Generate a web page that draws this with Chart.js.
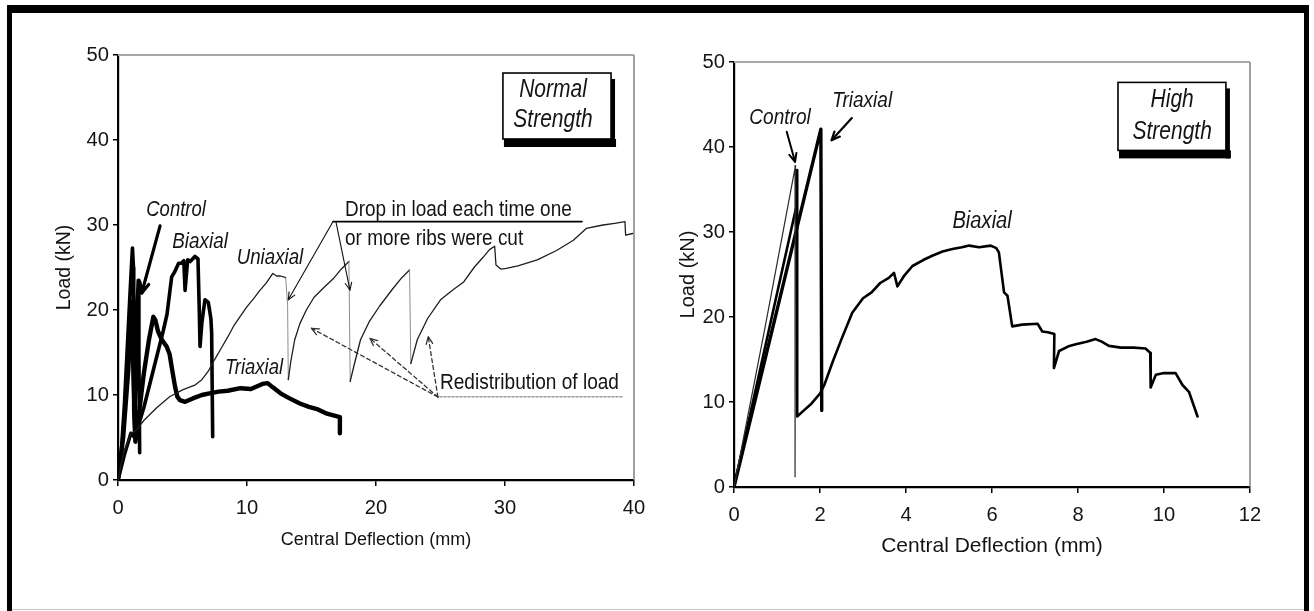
<!DOCTYPE html>
<html><head><meta charset="utf-8">
<script src="https://cdn.jsdelivr.net/npm/chart.js@4.4.1/dist/chart.umd.min.js"></script>
<style>
html,body{margin:0;padding:0;background:#fff;width:1314px;height:611px;overflow:hidden;position:relative}
#frame{position:absolute;left:7px;top:5px;width:1302px;height:606px;border-top:8px solid #000;border-left:5px solid #000;border-right:5px solid #000;box-sizing:border-box}
#bline{position:absolute;left:12px;top:609px;width:1292px;height:1px;background:#c8c8c8}
canvas{position:absolute}
</style></head><body>
<div id="frame"></div><div id="bline"></div>
<canvas id="cl" width="611" height="534" style="left:49px;top:20px"></canvas>
<canvas id="cr" width="618" height="540" style="left:672px;top:20px"></canvas>
<script>
// ---------- tick labels ----------
const leftXTicks = [0, 10, 20, 30, 40];
const leftYTicks = [0, 10, 20, 30, 40, 50];
const rightXTicks = [0, 2, 4, 6, 8, 10, 12];
const rightYTicks = [0, 10, 20, 30, 40, 50];

// ---------- Normal strength (left) ----------
const nsControlX = [0, 0.2, 0.5, 0.8, 1.0, 1.12, 1.2, 1.22, 1.3, 1.4, 1.5, 1.57, 1.62, 1.68];
const nsControlY = [0, 2, 9, 18, 24, 27.3, 25, 8, 5.5, 14, 21, 23.5, 15, 3.2];

const nsBiaxialX = [0, 0.5, 1.0, 1.3, 1.6, 2.0, 2.5, 3.0, 3.5, 3.8, 4.16, 4.4, 4.7, 4.9, 5.1, 5.2, 5.4, 5.6, 5.96, 6.2, 6.3, 6.36, 6.5, 6.74, 7.0, 7.2, 7.26, 7.34];
const nsBiaxialY = [0, 3, 5.5, 5, 6.5, 8.5, 11.5, 14.5, 17.5, 19.5, 23.9, 24.5, 25.5, 25.5, 25.8, 22.3, 25.9, 25.7, 26.3, 26.0, 20, 15.7, 18.5, 21.2, 20.9, 19, 17.3, 5.1];

const nsTriaxialX = [0, 0.4, 0.8, 1.0, 1.1, 1.2, 1.35, 1.6, 2.0, 2.4, 2.74, 2.9, 3.1, 3.4, 3.77, 4.0, 4.16, 4.42, 4.6, 4.8, 5.2, 5.8, 6.5, 7.1, 7.8, 8.5, 9.5, 10.3, 11.2, 11.6, 12.0, 12.6, 13.3, 14.1, 14.8, 15.5, 16.2, 16.7, 17.2, 17.2];
const nsTriaxialY = [0, 5, 13, 19.5, 21, 12, 4.5, 7.5, 12.5, 16.5, 19.2, 18.8, 17.5, 16.5, 15.7, 14.8, 13.3, 11, 9.8, 9.4, 9.2, 9.6, 10.0, 10.2, 10.4, 10.5, 10.8, 10.7, 11.3, 11.4, 10.9, 10.2, 9.6, 9.0, 8.6, 8.3, 7.8, 7.6, 7.4, 5.5];

const nsUniaxialX = [0, 0.4, 1.0, 1.4, 2.0, 3.0, 4.0, 5.0, 6.0, 6.5, 7.0, 7.5, 8.0, 8.5, 9.0, 9.5, 10.0, 10.5, 11.0, 11.5, 12.0, 12.3, 12.6, 13.0, 13.15, 13.2,
  13.4, 13.7, 14.1, 14.6, 15.2, 16.0, 16.7, 17.3, 17.9, 18.0,
  18.3, 18.8, 19.5, 20.3, 21.3, 22.0, 22.6, 22.7,
  23.2, 24.0, 25.0, 26.0, 26.8, 27.6, 28.3, 28.8, 29.2, 29.3, 29.7, 30.1, 31.0, 32.5, 34.0, 35.3, 36.3, 37.6, 38.5, 39.3, 39.35, 39.9];
const nsUniaxialY = [0, 3, 5.5, 5.8, 7, 8.5, 9.8, 10.6, 11.2, 11.8, 12.8, 14.2, 15.5, 16.8, 18.2, 19.3, 20.4, 21.3, 22.3, 23.2, 24.3, 24.0, 24.0, 23.8, 20.5, 11.8,
  14, 16.5, 18.4, 20, 21.5, 22.7, 23.7, 24.8, 25.7, 11.6,
  13.5, 16.5, 18.7, 20.5, 22.5, 23.8, 24.7, 13.7,
  16.5, 19, 21.2, 22.4, 23.3, 25, 26.2, 27.1, 27.5, 25.3, 24.8, 24.9, 25.2, 25.9, 27, 28.2, 29.6, 30, 30.2, 30.4, 28.8, 29.0];

// ---------- High strength (right) ----------
const hsControlX = [0, 0.7, 1.43, 1.42];
const hsControlY = [0, 18.2, 37.8, 1.2];

const hsTriaxialX = [0, 1.0, 2.02, 2.04];
const hsTriaxialY = [0, 20.8, 42.1, 9.0];

const hsBiaxialX = [0, 1.45, 1.47, 1.47, 1.6, 1.8, 2.0, 2.1, 2.3, 2.5, 2.75, 3.0, 3.2, 3.4, 3.6, 3.72, 3.8, 3.95, 4.15, 4.4, 4.61, 4.85, 5.08, 5.3, 5.47, 5.7, 5.97, 6.1, 6.16, 6.28, 6.36, 6.47, 6.7, 7.06, 7.17, 7.3, 7.45, 7.44, 7.56, 7.8, 7.95, 8.2, 8.41, 8.55, 8.72, 9.0, 9.3, 9.57, 9.68, 9.69, 9.81, 10.0, 10.27, 10.43, 10.58, 10.78];
const hsBiaxialY = [0, 33.0, 37.3, 8.3, 8.9, 9.8, 11.0, 12.0, 14.8, 17.4, 20.5, 22.2, 22.9, 24.0, 24.6, 25.2, 23.6, 24.8, 26.0, 26.7, 27.2, 27.7, 28.0, 28.2, 28.4, 28.2, 28.4, 28.1, 27.6, 22.9, 22.5, 18.9, 19.1, 19.2, 18.3, 18.2, 18.0, 14.0, 16.0, 16.6, 16.8, 17.1, 17.4, 17.1, 16.6, 16.4, 16.4, 16.3, 15.8, 11.7, 13.2, 13.4, 13.4, 12.0, 11.2, 8.3];

function pts(xs, ys) { return xs.map((x, i) => ({ x: x, y: ys[i] })); }

// ---------- fonts ----------
function hasFont(name) {
  const c = document.createElement('canvas').getContext('2d');
  const t = 'Drop in load each time 0123456789';
  c.font = '40px monospace'; const a = c.measureText(t).width;
  c.font = '40px "' + name + '", monospace'; const b = c.measureText(t).width;
  return Math.abs(a - b) > 0.5;
}
const NARROW = hasFont('Liberation Sans Narrow');
const FAM = NARROW ? '"Liberation Sans Narrow", "Liberation Sans", Arial, sans-serif' : '"Liberation Sans", Arial, sans-serif';
const K = NARROW ? 1 : 0.84;
const VS = NARROW ? 1 : 1.2;
const INK = '#141414';

function drawText(ctx, str, X, Y, size, italic, align) {
  ctx.save();
  ctx.font = (italic ? 'italic ' : '') + (size * K) + 'px ' + FAM;
  ctx.fillStyle = INK; ctx.textAlign = align || 'center'; ctx.textBaseline = 'middle';
  ctx.translate(X, Y); ctx.scale(1, VS); ctx.fillText(str, 0, 0);
  ctx.restore();
}
function drawLine(ctx, x0, y0, x1, y1, w, color, dash, head) {
  ctx.save();
  ctx.strokeStyle = color; ctx.lineWidth = w; ctx.lineCap = 'round'; ctx.lineJoin = 'round';
  ctx.setLineDash(dash || []);
  ctx.beginPath(); ctx.moveTo(x0, y0); ctx.lineTo(x1, y1); ctx.stroke();
  if (head) {
    ctx.setLineDash([]);
    const a = Math.atan2(y1 - y0, x1 - x0);
    ctx.beginPath();
    ctx.moveTo(x1 - head * Math.cos(a - 0.42), y1 - head * Math.sin(a - 0.42));
    ctx.lineTo(x1, y1);
    ctx.lineTo(x1 - head * Math.cos(a + 0.42), y1 - head * Math.sin(a + 0.42));
    ctx.stroke();
  }
  ctx.restore();
}
function P(chart, x, y) { return [chart.scales.x.getPixelForValue(x), chart.scales.y.getPixelForValue(y)]; }

function shadowBox(ctx, chart, x0, y0, x1, y1) {
  const [X0, Y0] = P(chart, x0, y0), [X1, Y1] = P(chart, x1, y1);
  ctx.save();
  ctx.fillStyle = '#000';
  ctx.fillRect(X0 + 1, Y1, X1 - X0 + 4, 8);
  ctx.fillRect(X1, Y0 + 6, 4, Y1 - Y0 + 2);
  ctx.fillStyle = '#fff'; ctx.fillRect(X0, Y0, X1 - X0, Y1 - Y0);
  ctx.strokeStyle = '#000'; ctx.lineWidth = 1.6; ctx.strokeRect(X0, Y0, X1 - X0, Y1 - Y0);
  ctx.restore();
}

const frameLines = {
  id: 'frameLines',
  beforeDatasetsDraw(chart) {
    const { ctx, chartArea: a } = chart;
    ctx.save();
    ctx.strokeStyle = '#a8a8a8'; ctx.lineWidth = 2.2;
    ctx.beginPath(); ctx.moveTo(a.left, a.top); ctx.lineTo(a.right, a.top); ctx.stroke();
    ctx.strokeStyle = '#8a8a8a'; ctx.lineWidth = 1.6;
    ctx.beginPath(); ctx.moveTo(a.right, a.top); ctx.lineTo(a.right, a.bottom); ctx.stroke();
    ctx.restore();
  }
};

const leftNotes = {
  id: 'leftNotes',
  afterDatasetsDraw(chart) {
    const ctx = chart.ctx;
    const L = (x0, y0, x1, y1, w, c, d, h) => { const a = P(chart, x0, y0), b = P(chart, x1, y1); drawLine(ctx, a[0], a[1], b[0], b[1], w, c, d, h); };
    const T = (s, x, y, size, it, al) => { const p = P(chart, x, y); drawText(ctx, s, p[0], p[1], size, it, al); };
    T('Control', 4.5, 31.8, 22, true);
    L(3.26, 29.9, 1.84, 22.0, 3.2, '#000', null, 11);
    T('Biaxial', 6.36, 28.0, 22.5, true);
    T('Uniaxial', 11.78, 26.2, 22.3, true);
    T('Triaxial', 10.54, 13.2, 22, true);
    T('Drop in load each time one', 17.6, 31.8, 22.6, false, 'left');
    T('or more ribs were cut', 17.6, 28.35, 22.6, false, 'left');
    L(16.67, 30.4, 35.97, 30.4, 1.6, '#000');
    L(16.67, 30.4, 13.2, 21.2, 1.1, '#111', null, 8);
    L(16.9, 30.35, 17.98, 22.35, 1.1, '#111', null, 8);
    T('Redistribution of load', 24.96, 11.5, 22.7, false, 'left');
    L(24.96, 9.8, 39.15, 9.8, 1.6, '#9a9a9a', [2, 2]);
    L(24.8, 9.76, 15.0, 17.85, 1.3, '#333', [4, 3], 8);
    L(24.8, 9.76, 19.53, 16.67, 1.3, '#333', [4, 3], 8);
    L(24.8, 9.76, 24.05, 16.86, 1.3, '#333', [4, 3], 8);
    shadowBox(ctx, chart, 29.84, 47.88, 38.22, 40.12);
    T('Normal', 33.72, 45.88, 25, true);
    T('Strength', 33.72, 42.35, 25, true);
  }
};

const rightNotes = {
  id: 'rightNotes',
  afterDatasetsDraw(chart) {
    const ctx = chart.ctx;
    const L = (x0, y0, x1, y1, w, c, d, h) => { const a = P(chart, x0, y0), b = P(chart, x1, y1); drawLine(ctx, a[0], a[1], b[0], b[1], w, c, d, h); };
    const T = (s, x, y, size, it, al) => { const p = P(chart, x, y); drawText(ctx, s, p[0], p[1], size, it, al); };
    T('Control', 1.07, 43.4, 22.7, true);
    L(1.226, 41.8, 1.42, 38.26, 2, '#000', null, 9);
    T('Triaxial', 2.98, 45.4, 22.7, true);
    L(2.74, 43.4, 2.27, 40.8, 2.2, '#000', null, 9);
    T('Biaxial', 5.77, 31.3, 24, true);
    shadowBox(ctx, chart, 8.93, 47.6, 11.44, 39.6);
    T('High', 10.19, 45.5, 25, true);
    T('Strength', 10.19, 41.8, 25, true);
  }
};

function dropGray(ctx) {
  const a = ctx.p0.parsed, b = ctx.p1.parsed;
  return (Math.abs(b.x - a.x) < 0.2 && a.y - b.y > 3) ? '#8c8c8c' : undefined;
}

function ds(xs, ys, w, color, extra) {
  return Object.assign({ data: pts(xs, ys), showLine: true, pointRadius: 0, borderColor: color, borderWidth: w, borderJoinStyle: 'round', borderCapStyle: 'round', tension: 0, fill: false }, extra || {});
}

function scaleOpts(xTicks, yTicks, xmin, xmax, yw, xh, xTitleSize, yTitleSize, xTitlePad) {
  const tickFont = { family: FAM, size: 24 * K };
  return {
    x: {
      type: 'linear', min: xmin, max: xmax,
      afterBuildTicks: s => { s.ticks = xTicks.map(v => ({ value: v })); },
      afterFit: s => { s.height = xh; },
      ticks: { font: tickFont, color: INK, padding: 10, maxRotation: 0, autoSkip: false },
      grid: { drawOnChartArea: false, drawTicks: true, tickLength: 6, color: '#000', lineWidth: 1.5 },
      border: { display: true, color: '#000', width: 2.2 },
      title: { display: true, text: 'Central Deflection (mm)', color: INK, font: { family: FAM, size: xTitleSize * K }, padding: { top: 0, bottom: xTitlePad } }
    },
    y: {
      type: 'linear', min: 0, max: 50,
      afterBuildTicks: s => { s.ticks = yTicks.map(v => ({ value: v })); },
      afterFit: s => { s.width = yw; },
      ticks: { font: tickFont, color: INK, padding: 4, autoSkip: false },
      grid: { drawOnChartArea: false, drawTicks: true, tickLength: 5, color: '#000', lineWidth: 1.5 },
      border: { display: true, color: '#000', width: 2.2 },
      title: { display: true, text: 'Load (kN)', color: INK, font: { family: '"Liberation Sans", Arial, sans-serif', size: yTitleSize }, padding: { top: 4, bottom: 4 } }
    }
  };
}

const common = { responsive: false, animation: false, events: [], plugins: { legend: { display: false }, tooltip: { enabled: false } } };

new Chart(document.getElementById('cl'), {
  type: 'scatter',
  data: { datasets: [
    ds(nsUniaxialX, nsUniaxialY, 1.3, '#1e1e1e', { segment: { borderColor: dropGray, borderWidth: c => dropGray(c) ? 1 : undefined } }),
    ds(nsBiaxialX, nsBiaxialY, 3.6, '#000'),
    ds(nsTriaxialX, nsTriaxialY, 4.4, '#000'),
    ds(nsControlX, nsControlY, 3.6, '#000')
  ] },
  options: Object.assign({}, common, {
    layout: { padding: { top: 35, right: 26, left: 0, bottom: 0 } },
    scales: scaleOpts(leftXTicks, leftYTicks, 0, 40, 69, 74, 21.5, 19.5, 3)
  }),
  plugins: [frameLines, leftNotes]
});

new Chart(document.getElementById('cr'), {
  type: 'scatter',
  data: { datasets: [
    ds(hsControlX, hsControlY, 1.2, '#2a2a2a'),
    ds(hsBiaxialX, hsBiaxialY, 2.6, '#000'),
    ds(hsTriaxialX, hsTriaxialY, 3.4, '#000')
  ] },
  options: Object.assign({}, common, {
    layout: { padding: { top: 42, right: 40, left: 0, bottom: 0 } },
    scales: scaleOpts(rightXTicks, rightYTicks, 0, 12, 62, 73, 25, 20, 1)
  }),
  plugins: [frameLines, rightNotes]
});
</script>
</body></html>
